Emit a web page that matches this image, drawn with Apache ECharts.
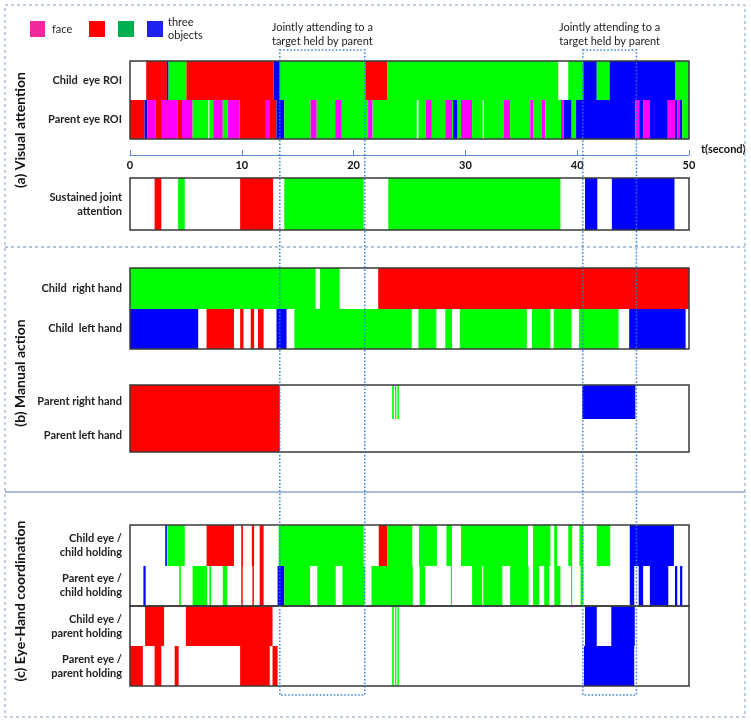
<!DOCTYPE html>
<html>
<head>
<meta charset="utf-8">
<script src="https://cdn.jsdelivr.net/npm/echarts@6/dist/echarts.min.js"></script>
<style>
  html, body { margin: 0; padding: 0; background: #fff; }
  #chart { width: 751px; height: 724px; }
</style>
</head>
<body>
<div id="chart"></div>
<script>
// colour codes used in the segment lists: 0 face, 1 red object, 2 green object, 3 blue object
var F = 0, R = 1, G = 2, B = 3;

var timeTicks = [0, 10, 20, 30, 40, 50];
var jointTargets = [[13.4, 21.0], [40.5, 45.3]];

// (a) visual attention
var childEyeROI = [[1.45,3.3,R],[3.3,3.45,B],[3.45,5.05,G],[5.05,12.85,R],[12.85,13.4,B],[13.4,21.05,G],[21.05,23.0,R],
  [23.0,38.3,G],[39.2,40.55,G],[40.55,41.75,B],[41.75,42.9,G],[42.9,48.75,B],[48.75,50,G]];
var parentEyeROI = [[0,1.3,R],[1.3,1.55,B],[1.55,2.3,F],[2.3,2.85,R],[2.85,4.25,F],[4.25,4.65,R],[4.65,5.6,F],[5.6,7.0,G],
  [7.1,7.45,G],[7.45,8.3,F],[8.3,8.75,G],[8.75,9.8,F],[9.8,12.15,R],[12.15,12.45,F],[12.45,13.1,R],[13.1,13.8,B],[13.8,16.15,G],
  [16.15,16.7,F],[16.7,18.35,G],[18.35,18.95,F],[18.95,21.3,G],[21.3,21.7,F],[21.7,25.65,G],[25.8,26.45,G],[26.45,27.0,F],
  [27.0,28.2,G],[28.2,28.8,F],[28.8,28.9,G],[28.9,29.3,B],[29.3,29.6,G],[29.6,30.6,F],[30.6,31.55,G],[31.65,33.4,G],[33.4,34.0,F],
  [34.0,35.8,G],[35.8,36.1,F],[36.1,36.8,G],[36.8,37.15,F],[37.15,38.55,G],[38.55,38.8,F],[38.8,39.5,B],[39.5,39.9,G],[39.9,45.2,B],
  [45.2,45.55,F],[45.55,45.9,B],[45.9,46.5,F],[46.5,48.1,B],[48.1,48.75,F],[48.75,48.95,B],[48.95,49.15,F],[49.15,49.4,B],[49.4,50,G]];
var sustainedJoint = [[2.2,2.8,R],[4.3,4.9,G],[9.85,12.8,R],[13.8,20.9,G],[23.1,38.5,G],[40.7,41.8,B],[43.1,48.7,B]];

// (b) manual action
var childRightHand = [[0,16.6,G],[17.0,18.75,G],[22.2,50,R]];
var childLeftHand = [[0,6.1,B],[6.85,9.3,R],[9.85,10.15,R],[10.8,11.1,R],[11.45,11.95,R],[13.1,14.0,B],[14.7,25.2,G],
  [25.8,27.4,G],[28.2,28.8,G],[29.5,35.5,G],[35.95,37.6,G],[37.9,39.5,G],[40.15,43.7,G],[44.65,49.7,B]];
var parentRightHand = [[0,13.4,R],[23.45,23.6,G],[23.7,23.82,G],[23.92,24.05,G],[40.45,45.2,B]];
var parentLeftHand = [[0,13.4,R]];

// (c) eye-hand coordination
var childEyeChildHold = [[3.15,3.3,B],[3.35,4.9,G],[6.85,9.3,R],[9.95,10.1,R],[10.9,11.1,R],[11.6,11.95,R],[13.3,20.9,G],
  [22.25,23.0,R],[23.0,25.25,G],[25.85,27.45,G],[28.3,28.8,G],[29.6,35.6,G],[36.05,37.6,G],[37.95,38.2,G],[39.2,39.55,G],
  [40.2,40.55,G],[41.75,42.95,G],[44.7,48.65,B]];
var parentEyeChildHold = [[1.2,1.4,B],[4.4,4.55,G],[5.6,6.9,G],[7.1,7.25,G],[8.3,8.7,G],[9.95,10.08,R],[10.95,11.08,R],
  [11.6,11.95,R],[13.2,13.8,B],[13.8,16.1,G],[16.75,18.4,G],[19.0,21.0,G],[21.6,25.3,G],[25.9,26.4,G],[28.7,28.8,G],
  [30.6,31.5,G],[31.6,33.3,G],[34.0,35.65,G],[36.05,36.6,G],[37.05,37.5,G],[37.95,38.5,G],[39.45,39.55,G],[40.3,40.55,G],
  [44.7,45.1,B],[45.5,45.9,B],[46.5,48.15,B],[48.75,48.95,B],[49.2,49.4,B]];
var childEyeParentHold = [[1.35,3.05,R],[5.0,12.75,R],[23.45,23.6,G],[23.7,23.82,G],[23.92,24.05,G],[40.7,41.75,B],[43.05,45.15,B]];
var parentEyeParentHold = [[0,1.15,R],[2.2,2.8,R],[4.0,4.35,R],[9.85,12.5,R],[12.75,13.2,R],[23.45,23.6,G],[23.7,23.82,G],
  [23.92,24.05,G],[40.6,45.1,B]];

var barColors = ['#ff00ff', '#ff0000', '#00ff00', '#0000ff'];
var legendColors = ['#ee2a9c', '#ff0000', '#00b050', '#2020f0'];
var FONT = 'Lato';

// layout of the boxes: [top, height, labels, rows]
var boxes = [
  [61, 78, ['Child  eye ROI', 'Parent eye ROI'], [childEyeROI, parentEyeROI]],
  [178, 52, ['Sustained joint\nattention'], [sustainedJoint]],
  [268, 81, ['Child  right hand', 'Child  left hand'], [childRightHand, childLeftHand]],
  [385, 67, ['Parent right hand', 'Parent left hand'], [parentRightHand, parentLeftHand]],
  [525, 81, ['Child eye /\nchild holding', 'Parent eye /\nchild holding'], [childEyeChildHold, parentEyeChildHold]],
  [606, 80, ['Child eye /\nparent holding', 'Parent eye /\nparent holding'], [childEyeParentHold, parentEyeParentHold]]
];
var AXIS_TOP = 154;
var RECT_TOP = 50, RECT_BOTTOM = 695;

function renderSeg(params, api) {
  var row = api.value(2);
  var a = api.coord([api.value(0), row]);
  var b = api.coord([api.value(1), row]);
  var h = api.size([0, 1])[1];
  // snap row edges to whole pixels so stacked rows meet without a seam
  var y0 = Math.round(a[1] - h / 2), y1 = Math.round(a[1] + h / 2);
  return {
    type: 'rect',
    shape: { x: a[0], y: y0, width: Math.max(b[0] - a[0], 1), height: y1 - y0 },
    style: { fill: barColors[api.value(3)] }
  };
}

function renderFrame(params) {
  var c = params.coordSys;
  return {
    type: 'rect',
    shape: { x: c.x, y: c.y, width: c.width, height: c.height },
    style: { fill: 'none', stroke: '#3a3a3a', lineWidth: 1.5 }
  };
}

function renderJoint(params, api) {
  var x0 = api.coord([api.value(0), 0])[0];
  var x1 = api.coord([api.value(1), 0])[0];
  return {
    type: 'group',
    children: [
      { type: 'rect', shape: { x: x0, y: RECT_TOP, width: x1 - x0, height: RECT_BOTTOM - RECT_TOP },
        style: { fill: 'none', stroke: '#2f7fd8', lineWidth: 1.5, lineDash: [1.5, 2] } },
      { type: 'text', x: (x0 + x1) / 2, y: 34,
        style: { text: 'Jointly attending to a\ntarget held by parent', align: 'center', verticalAlign: 'middle',
          font: '11px ' + FONT, fill: '#222', lineHeight: 14 } }
    ]
  };
}

var grids = [], xAxes = [], yAxes = [], series = [];
boxes.forEach(function (bx, i) {
  grids.push({ left: 130, right: 62, top: bx[0], height: bx[1] });
  xAxes.push({ gridIndex: i, type: 'value', min: 0, max: 50, show: false });
  yAxes.push({
    gridIndex: i, type: 'category', data: bx[2], inverse: true,
    axisLine: { show: false }, axisTick: { show: false }, splitLine: { show: false },
    axisLabel: { fontFamily: FONT, fontSize: 11, fontWeight: 'bold', color: '#222', lineHeight: 14, margin: 8 }
  });
  var data = [];
  bx[3].forEach(function (row, r) {
    row.forEach(function (s) { data.push([s[0], s[1], r, s[2]]); });
  });
  series.push({ type: 'custom', xAxisIndex: i, yAxisIndex: i, renderItem: renderSeg,
    encode: { x: [0, 1], y: 2 }, data: data, z: 2 });
  series.push({ type: 'custom', xAxisIndex: i, yAxisIndex: i, renderItem: renderFrame,
    data: [[0, 0]], z: 5, silent: true });
});

// time axis
var ai = boxes.length;
grids.push({ left: 130, right: 62, top: AXIS_TOP, height: 1 });
xAxes.push({
  gridIndex: ai, type: 'value', min: timeTicks[0], max: timeTicks[timeTicks.length - 1], interval: 10,
  axisLine: { lineStyle: { color: '#5b8bd0', width: 1.2 } },
  axisTick: { inside: true, length: 5, lineStyle: { color: '#5b8bd0' } },
  splitLine: { show: false },
  axisLabel: { fontFamily: FONT, fontSize: 11, fontWeight: 'bold', color: '#111', margin: 5 },
  name: 't(second)', nameLocation: 'end', nameGap: 12,
  nameTextStyle: { fontFamily: FONT, fontSize: 11, fontWeight: 'bold', color: '#111', verticalAlign: 'bottom', align: 'left' }
});
yAxes.push({ gridIndex: ai, type: 'value', show: false });

series.push({ type: 'custom', xAxisIndex: 0, yAxisIndex: 0, renderItem: renderJoint, clip: false,
  encode: { x: [0, 1] }, data: jointTargets, z: 20, silent: true });

var chart = echarts.init(document.getElementById('chart'), null, { renderer: 'canvas' });
chart.setOption({
  animation: false,
  backgroundColor: '#fff',
  grid: grids,
  xAxis: xAxes,
  yAxis: yAxes,
  series: series,
  graphic: [
    { type: 'rect', shape: { x: 5, y: 5, width: 740, height: 712 },
      style: { fill: 'none', stroke: '#7f9cc4', lineWidth: 1, lineDash: [3, 3] }, z: 1 },
    { type: 'line', shape: { x1: 5, y1: 247, x2: 745, y2: 247 },
      style: { stroke: '#7f9cc4', lineWidth: 1.2, lineDash: [3, 3] } },
    { type: 'line', shape: { x1: 5, y1: 492, x2: 745, y2: 492 },
      style: { stroke: '#8aa6c8', lineWidth: 1.5 } },
    // legend
    { type: 'rect', shape: { x: 30, y: 21, width: 15, height: 16 }, style: { fill: legendColors[0] } },
    { type: 'text', x: 52, y: 29, style: { text: 'face', font: '11px ' + FONT, fill: '#222', verticalAlign: 'middle' } },
    { type: 'rect', shape: { x: 89, y: 21, width: 16, height: 16 }, style: { fill: legendColors[1] } },
    { type: 'rect', shape: { x: 118, y: 21, width: 16, height: 16 }, style: { fill: legendColors[2] } },
    { type: 'rect', shape: { x: 147, y: 21, width: 16, height: 16 }, style: { fill: legendColors[3] } },
    { type: 'text', x: 168, y: 29, style: { text: 'three\nobjects', font: '11px ' + FONT, fill: '#222',
      verticalAlign: 'middle', lineHeight: 13 } },
    // section titles
    { type: 'text', x: 20, y: 130, rotation: Math.PI / 2,
      style: { text: '(a) Visual attention', font: 'bold 14px ' + FONT, fill: '#111', align: 'center', verticalAlign: 'middle' } },
    { type: 'text', x: 20, y: 373, rotation: Math.PI / 2,
      style: { text: '(b) Manual action', font: 'bold 14px ' + FONT, fill: '#111', align: 'center', verticalAlign: 'middle' } },
    { type: 'text', x: 20, y: 601, rotation: Math.PI / 2,
      style: { text: '(c) Eye-Hand coordination', font: 'bold 14px ' + FONT, fill: '#111', align: 'center', verticalAlign: 'middle' } }
  ]
});
</script>
</body>
</html>
